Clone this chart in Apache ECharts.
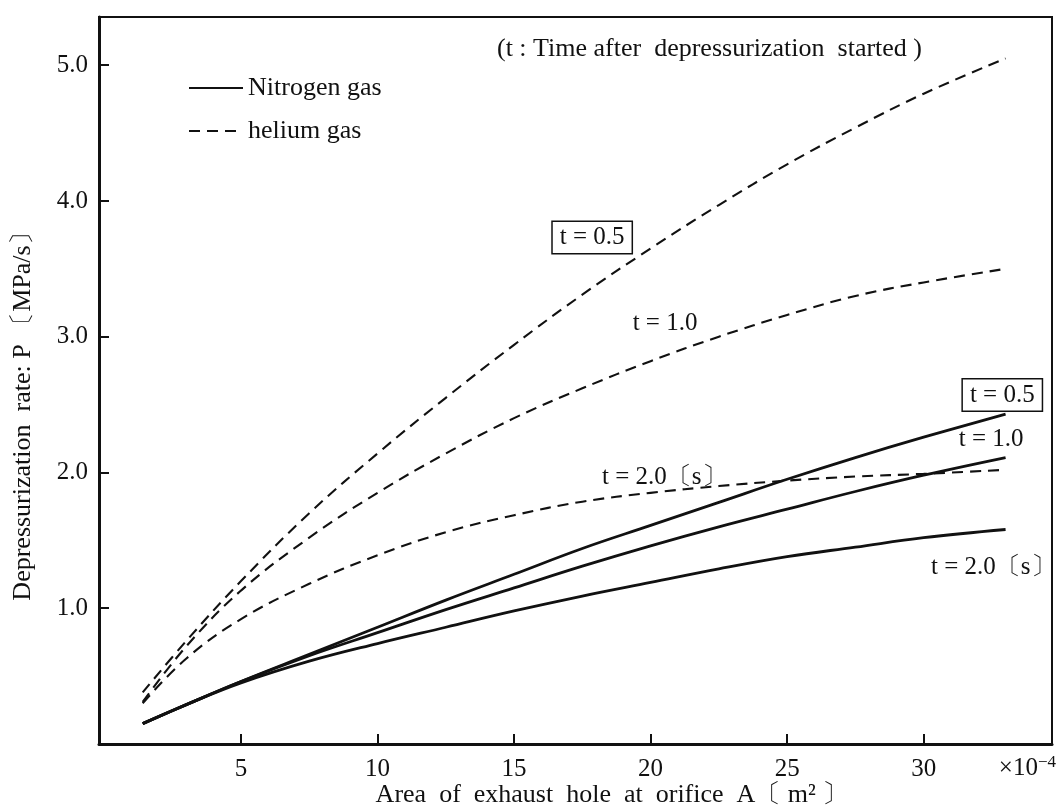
<!DOCTYPE html>
<html>
<head>
<meta charset="utf-8">
<style>
  html, body { margin: 0; padding: 0; background: #fff; }
  #chart { width: 1061px; height: 812px; }
</style>
<script src="https://cdn.jsdelivr.net/npm/echarts@6/dist/echarts.min.js"></script>
</head>
<body>
<div id="chart"></div>
<script>
// Orifice area A (×10^-4 m²) at which each curve is sampled
const areaValues = [1.4, 3, 5, 7.5, 10, 12.5, 15, 17.5, 20, 22.5, 25, 27.5, 30, 33];

// Depressurization rate P (MPa/s), nitrogen gas
const nitrogenT05 = [0.15, 0.29, 0.46, 0.66, 0.86, 1.06, 1.25, 1.44, 1.61, 1.78, 1.95, 2.11, 2.26, 2.43];
const nitrogenT10 = [0.15, 0.29, 0.46, 0.65, 0.82, 0.99, 1.15, 1.31, 1.46, 1.60, 1.73, 1.86, 1.98, 2.11];
const nitrogenT20 = [0.15, 0.29, 0.45, 0.61, 0.74, 0.86, 0.98, 1.09, 1.19, 1.29, 1.38, 1.45, 1.52, 1.58];

// Depressurization rate P (MPa/s), helium gas
const heliumT05 = [0.38, 0.76, 1.20, 1.70, 2.14, 2.55, 2.94, 3.31, 3.65, 3.97, 4.27, 4.54, 4.79, 5.05];
const heliumT10 = [0.31, 0.72, 1.13, 1.52, 1.85, 2.14, 2.40, 2.62, 2.82, 3.00, 3.16, 3.30, 3.40, 3.50];
const heliumT20 = [0.30, 0.63, 0.92, 1.18, 1.39, 1.56, 1.685, 1.785, 1.85, 1.90, 1.94, 1.97, 1.99, 2.02];

// Tick labels
const xTicks = [5, 10, 15, 20, 25, 30];
const yTicks = [1, 2, 3, 4, 5];

const FONT = '"Liberation Serif", "DejaVu Serif", "Noto Serif", serif';
const INK = '#111';
const WORD_SIZE = 26;

function pairs(ys) {
  return areaValues.map((x, i) => [x, ys[i]]);
}

// Curve annotation placed at a data position
function tag(text, x, y, boxed) {
  const label = {
    show: true,
    position: 'inside',
    formatter: text,
    color: INK,
    fontFamily: FONT,
    fontSize: 25
  };
  if (boxed) {
    label.borderColor = INK;
    label.borderWidth = 1.5;
    label.padding = [4, 7, 2, 7];
    label.backgroundColor = '#fff';
  }
  return { coord: [x, y], symbol: 'rect', symbolSize: 0, label };
}

function curve(name, ys, dashed, tags) {
  return {
    type: 'line',
    name,
    data: pairs(ys),
    smooth: 0.4,
    symbol: 'none',
    silent: true,
    color: INK,
    z: 3,
    lineStyle: dashed
      ? { color: INK, width: 2.1, type: [11, 7] }
      : { color: INK, width: 2.8, type: 'solid' },
    markPoint: tags ? { silent: true, data: tags } : undefined
  };
}

const chart = echarts.init(document.getElementById('chart'), null, { renderer: 'canvas' });

chart.setOption({
  animation: false,
  backgroundColor: '#fff',
  grid: {
    left: 99, right: 9, top: 17, bottom: 68,
    show: true, borderColor: INK, borderWidth: 2
  },
  legend: {
    orient: 'vertical',
    left: 183, top: 70,
    itemWidth: 54, itemHeight: 14, itemGap: 17,
    data: ['Nitrogen gas', 'helium gas'],
    itemStyle: { opacity: 0 },
    textStyle: { color: INK, fontFamily: FONT, fontSize: WORD_SIZE },
    selectedMode: false
  },
  xAxis: {
    type: 'value',
    min: -0.2, max: 34.7,
    axisLine: { show: true, onZero: false, lineStyle: { color: INK, width: 3 } },
    axisTick: { show: true, inside: true, length: 10, customValues: xTicks, lineStyle: { color: INK, width: 2 } },
    axisLabel: { customValues: xTicks, margin: 13, color: INK, fontFamily: FONT, fontSize: 25 },
    splitLine: { show: false }
  },
  yAxis: {
    type: 'value',
    min: 0, max: 5.355,
    axisLine: { show: true, onZero: false, lineStyle: { color: INK, width: 3 } },
    axisTick: { show: true, inside: true, length: 10, customValues: yTicks, lineStyle: { color: INK, width: 2 } },
    axisLabel: {
      customValues: yTicks, margin: 11, color: INK, fontFamily: FONT, fontSize: 25,
      formatter: v => v.toFixed(1)
    },
    splitLine: { show: false }
  },
  series: [
    curve('Nitrogen gas', nitrogenT05, false, [tag('t = 0.5', 32.88, 2.57, true)]),
    curve('Nitrogen gas', nitrogenT10, false, [tag('t = 1.0', 32.47, 2.24)]),
    curve('Nitrogen gas', nitrogenT20, false, [tag('t = 2.0〔s〕', 32.55, 1.30)]),
    curve('helium gas', heliumT05, true, [tag('t = 0.5', 17.86, 3.73, true)]),
    curve('helium gas', heliumT10, true, [tag('t = 1.0', 20.53, 3.10)]),
    curve('helium gas', heliumT20, true, [tag('t = 2.0〔s〕', 20.5, 1.96)])
  ],
  graphic: [
    {
      type: 'text', x: 922, y: 49,
      style: {
        text: '(t : Time after  depressurization  started )',
        fill: INK, font: WORD_SIZE + 'px ' + FONT, align: 'right', verticalAlign: 'middle'
      }
    },
    {
      type: 'text', x: 23, y: 410, rotation: Math.PI / 2,
      style: {
        text: 'Depressurization  rate: P 〔MPa/s〕',
        fill: INK, font: WORD_SIZE + 'px ' + FONT, align: 'center', verticalAlign: 'middle'
      }
    },
    {
      type: 'text', x: 612, y: 795,
      style: {
        text: 'Area  of  exhaust  hole  at  orifice  A〔 m² 〕',
        fill: INK, font: WORD_SIZE + 'px ' + FONT, align: 'center', verticalAlign: 'middle'
      }
    },
    {
      type: 'text', x: 1056, y: 768,
      style: {
        text: '×10{sup|−4}',
        rich: { sup: { fontSize: 17, fontFamily: FONT, fill: INK, verticalAlign: 'top', padding: [0, 0, 11, 0] } },
        fill: INK, font: '25px ' + FONT, align: 'right', verticalAlign: 'middle'
      }
    }
  ]
});
</script>
</body>
</html>
